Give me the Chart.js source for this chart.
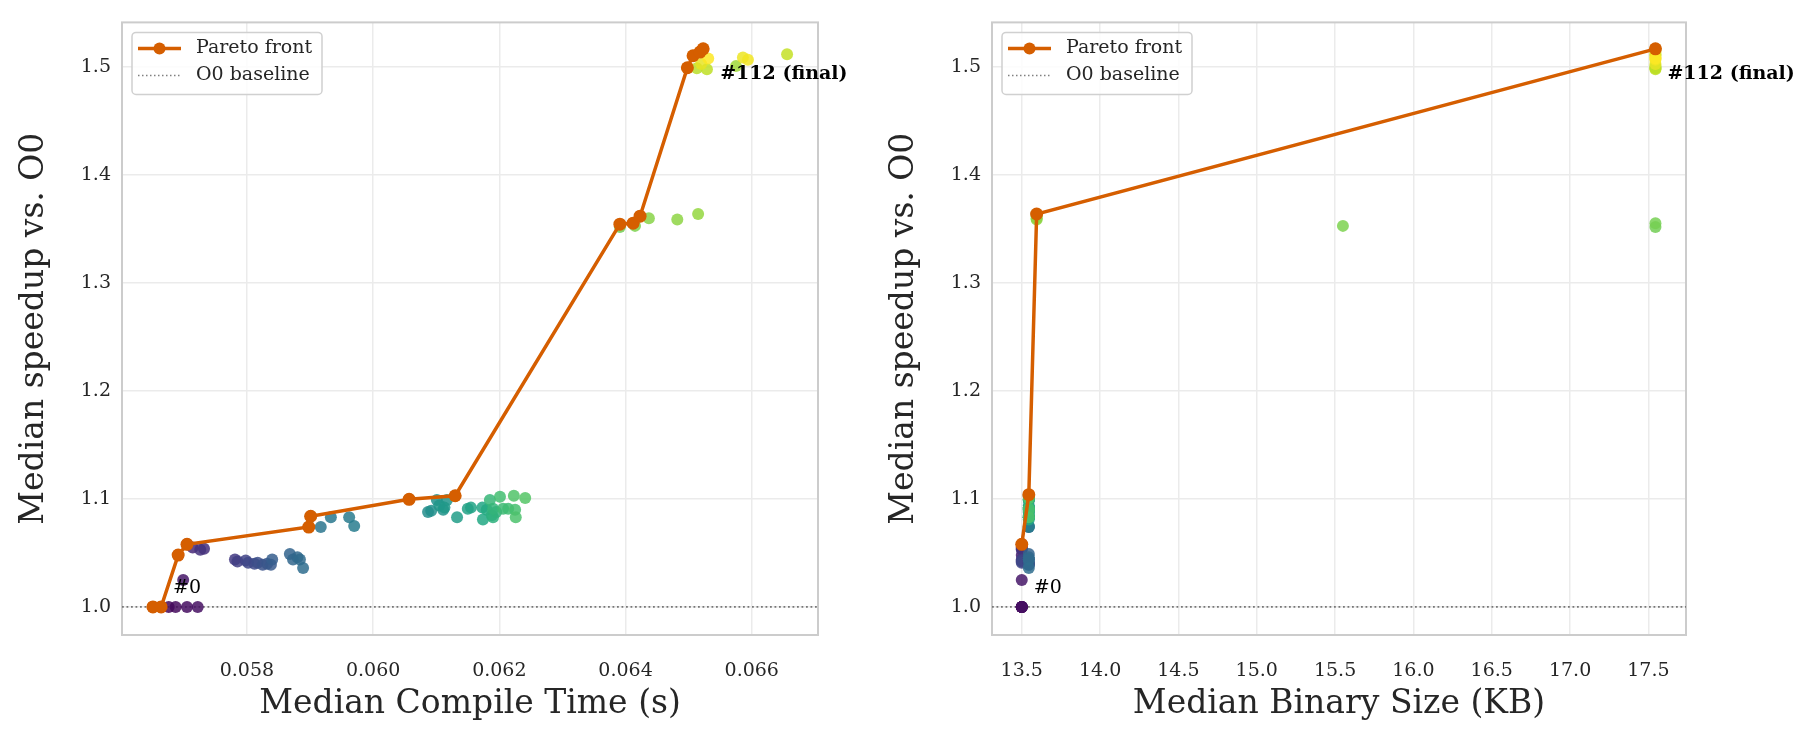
<!DOCTYPE html>
<html>
<head>
<meta charset="utf-8">
<script src="https://cdn.jsdelivr.net/npm/chart.js@4.4.1/dist/chart.umd.min.js"></script>
<style>
  html, body { margin: 0; padding: 0; background: #fff; }
  #wrap { position: relative; width: 1819px; height: 742px; }
  canvas { position: absolute; top: 0; }
</style>
</head>
<body>
<div id="wrap">
  <canvas id="timeChart" width="870" height="742" style="left:0"></canvas>
  <canvas id="sizeChart" width="949" height="742" style="left:870px"></canvas>
</div>
<script>
// one entry per evaluated configuration (iteration number drives the colour)
const iterations = [0, 1, 2, 3, 4, 5, 7, 9, 11, 13, 15, 16, 19, 21, 22, 24, 25, 27, 28, 30,
  31, 33, 36, 37, 38, 39, 40, 42, 43, 44, 45, 46, 47, 52, 54, 55, 56, 57, 58, 59,
  60, 61, 62, 64, 65, 66, 67, 68, 70, 71, 72, 73, 74, 76, 77, 78, 79, 80, 81, 82,
  88, 89, 90, 91, 92, 93, 94, 96, 98, 100, 101, 102, 104, 106, 107, 108, 109, 110, 112];
const compileTime = [0.05664, 0.05651, 0.05676, 0.05687, 0.05705, 0.05722, 0.05699, 0.05691, 0.05705, 0.05714,
  0.05732, 0.05726, 0.05781, 0.05785, 0.05798, 0.05802, 0.05812, 0.05817, 0.05825, 0.05832,
  0.05838, 0.05840, 0.05868, 0.05873, 0.05880, 0.05884, 0.05889, 0.05898, 0.05901, 0.05917,
  0.05933, 0.05962, 0.05970, 0.06057, 0.06087, 0.06092, 0.06101, 0.06111, 0.06117, 0.06105,
  0.06113, 0.06130, 0.06133, 0.06150, 0.06155, 0.06173, 0.06174, 0.06180, 0.06188, 0.06190,
  0.06195, 0.06190, 0.06185, 0.06206, 0.06214, 0.06201, 0.06225, 0.06226, 0.06223, 0.06241,
  0.06391, 0.06412, 0.06415, 0.06423, 0.06437, 0.06482, 0.06515, 0.06575, 0.06498, 0.06513,
  0.06529, 0.06656, 0.06507, 0.06518, 0.06523, 0.06520, 0.06586, 0.06594, 0.06531];
const binarySize = [13.50, 13.50, 13.50, 13.50, 13.50, 13.50, 13.50, 13.50, 13.50, 13.50,
  13.50, 13.50, 13.50, 13.50, 13.50, 13.50, 13.545, 13.545, 13.545, 13.545,
  13.545, 13.545, 13.545, 13.545, 13.545, 13.545, 13.545, 13.545, 13.545, 13.545,
  13.545, 13.545, 13.545, 13.545, 13.545, 13.545, 13.545, 13.545, 13.545, 13.545,
  13.545, 13.545, 13.545, 13.545, 13.545, 13.545, 13.545, 13.545, 13.545, 13.545,
  13.545, 13.545, 13.545, 13.545, 13.545, 13.545, 13.545, 13.545, 13.545, 13.545,
  17.545, 17.545, 15.55, 13.595, 13.595, 13.595, 13.595, 17.545, 17.545, 17.545,
  17.545, 17.545, 17.545, 17.545, 17.545, 17.545, 17.545, 17.545, 17.545];
const speedup = [1.000, 1.000, 1.000, 1.000, 1.000, 1.000, 1.025, 1.048, 1.058, 1.055,
  1.054, 1.053, 1.044, 1.042, 1.043, 1.041, 1.040, 1.041, 1.039, 1.040,
  1.039, 1.044, 1.049, 1.044, 1.046, 1.044, 1.036, 1.074, 1.084, 1.074,
  1.083, 1.083, 1.075, 1.0997, 1.088, 1.089, 1.099, 1.090, 1.099, 1.094,
  1.092, 1.103, 1.083, 1.091, 1.092, 1.092, 1.081, 1.090, 1.085, 1.083,
  1.088, 1.091, 1.099, 1.091, 1.091, 1.102, 1.090, 1.083, 1.103, 1.101,
  1.352, 1.3555, 1.353, 1.362, 1.360, 1.359, 1.364, 1.501, 1.4995, 1.499,
  1.498, 1.512, 1.5106, 1.514, 1.517, 1.503, 1.509, 1.507, 1.508];
const lastIteration = 112;

// Pareto fronts
const paretoTime = [0.05651, 0.05664, 0.05691, 0.05705, 0.05898, 0.05901, 0.06057, 0.06130,
  0.06391, 0.06412, 0.06423, 0.06498, 0.06507, 0.06518, 0.06523];
const paretoTimeSpeedup = [1.000, 1.000, 1.048, 1.058, 1.074, 1.084, 1.0997, 1.103,
  1.3546, 1.3555, 1.362, 1.4995, 1.5106, 1.514, 1.517];
const paretoSize = [13.50, 13.545, 13.595, 17.545];
const paretoSizeSpeedup = [1.058, 1.104, 1.364, 1.517];

const baselineSpeedup = 1.0;

// tick labels
const timeTicks = [0.058, 0.060, 0.062, 0.064, 0.066];
const sizeTicks = [13.5, 14.0, 14.5, 15.0, 15.5, 16.0, 16.5, 17.0, 17.5];
const speedupTicks = [1.0, 1.1, 1.2, 1.3, 1.4, 1.5];

const FONT = '"DejaVu Serif", "Liberation Serif", serif';
const ORANGE = '#d55e00';
const TEXT = '#262626';

const viridisStops = ['#440154', '#482475', '#414487', '#355f8d', '#2a788e', '#21918c',
  '#22a884', '#44bf70', '#7ad151', '#bddf26', '#fde725'];
function viridis(t, alpha) {
  const p = Math.max(0, Math.min(1, t)) * (viridisStops.length - 1);
  const i = Math.min(Math.floor(p), viridisStops.length - 2);
  const f = p - i;
  const a = viridisStops[i], b = viridisStops[i + 1];
  const c = [1, 3, 5].map(k => Math.round(parseInt(a.substr(k, 2), 16) * (1 - f) + parseInt(b.substr(k, 2), 16) * f));
  return 'rgba(' + c.join(',') + ',' + alpha + ')';
}
const pointColors = iterations.map(it => viridis(it / lastIteration, 0.85));

const framePlugin = {
  id: 'frame',
  beforeDatasetsDraw(chart) {
    const a = chart.chartArea, ctx = chart.ctx;
    ctx.save();
    ctx.strokeStyle = '#cccccc';
    ctx.lineWidth = 2;
    ctx.strokeRect(a.left, a.top, a.right - a.left, a.bottom - a.top);
    ctx.restore();
  }
};

const legendBoxPlugin = {
  id: 'legendBox',
  afterDraw(chart) {
    const a = chart.chartArea, ctx = chart.ctx;
    const x = a.left + 10, y = a.top + 10, w = 190, h = 62;
    ctx.save();
    ctx.fillStyle = 'rgba(255,255,255,0.85)';
    ctx.strokeStyle = '#d0d0d0';
    ctx.lineWidth = 1.5;
    ctx.beginPath();
    ctx.roundRect(x, y, w, h, 4);
    ctx.fill();
    ctx.stroke();
    // Pareto front entry
    ctx.strokeStyle = ORANGE;
    ctx.lineWidth = 3.5;
    ctx.beginPath();
    ctx.moveTo(x + 6, y + 16);
    ctx.lineTo(x + 49, y + 16);
    ctx.stroke();
    ctx.fillStyle = ORANGE;
    ctx.beginPath();
    ctx.arc(x + 27.5, y + 16, 6, 0, Math.PI * 2);
    ctx.fill();
    // baseline entry
    ctx.strokeStyle = '#808080';
    ctx.lineWidth = 1.5;
    ctx.setLineDash([1.5, 2.5]);
    ctx.beginPath();
    ctx.moveTo(x + 6, y + 43);
    ctx.lineTo(x + 49, y + 43);
    ctx.stroke();
    ctx.setLineDash([]);
    ctx.fillStyle = TEXT;
    ctx.font = '19px ' + FONT;
    ctx.textBaseline = 'middle';
    ctx.fillText('Pareto front', x + 64, y + 16);
    ctx.fillText('O0 baseline', x + 64, y + 43);
    ctx.restore();
  }
};

const annotatePlugin = {
  id: 'annotate',
  afterDatasetsDraw(chart, args, opts) {
    const ctx = chart.ctx, xs = chart.scales.x, ys = chart.scales.y;
    ctx.save();
    ctx.fillStyle = '#000';
    ctx.textBaseline = 'middle';
    opts.items.forEach(it => {
      const i = iterations.indexOf(it.iter);
      const px = xs.getPixelForValue(opts.xData[i]);
      const py = ys.getPixelForValue(speedup[i]);
      ctx.font = (it.bold ? 'bold ' : '') + '19px ' + FONT;
      ctx.fillText(it.text, px + it.dx, py + it.dy);
    });
    ctx.restore();
  }
};

function makeChart(id, xData, frontX, frontY, xTicks, xMin, xMax, decimals, xTitle, rightPad) {
  const scatter = xData.map((v, i) => ({ x: v, y: speedup[i] }));
  const front = frontX.map((v, i) => ({ x: v, y: frontY[i] }));
  return new Chart(document.getElementById(id), {
    type: 'scatter',
    data: {
      datasets: [
        {
          label: 'Pareto front',
          data: front,
          showLine: true,
          borderColor: ORANGE,
          backgroundColor: ORANGE,
          borderWidth: 3.5,
          pointRadius: 6.5,
          pointBorderWidth: 0
        },
        {
          label: 'configs',
          data: scatter,
          backgroundColor: pointColors,
          borderWidth: 0,
          pointRadius: 6
        },
        {
          label: 'O0 baseline',
          data: [{ x: xMin, y: baselineSpeedup }, { x: xMax, y: baselineSpeedup }],
          showLine: true,
          borderColor: '#777777',
          borderWidth: 1.8,
          borderDash: [1.8, 2.7],
          pointRadius: 0
        }
      ]
    },
    options: {
      responsive: false,
      animation: false,
      layout: { padding: { top: 20, right: rightPad, bottom: 0, left: 0 } },
      plugins: {
        legend: { display: false },
        tooltip: { enabled: false },
        annotate: {
          xData: xData,
          items: [
            { iter: 0, text: '#0', dx: 12, dy: -19, bold: false },
            { iter: lastIteration, text: '#112 (final)', dx: 12, dy: 16, bold: true }
          ]
        }
      },
      scales: {
        x: {
          type: 'linear',
          min: xMin,
          max: xMax,
          afterBuildTicks: s => { s.ticks = xTicks.map(v => ({ value: v })); },
          afterFit: s => { s.height = 107; },
          grid: { color: '#ebebeb', lineWidth: 1.5, drawTicks: false },
          border: { display: false },
          ticks: { padding: 25, color: TEXT, font: { family: FONT, size: 19 }, callback: v => Number(v).toFixed(decimals) },
          title: { display: true, text: xTitle, color: TEXT, font: { family: FONT, size: 33 }, padding: { top: 0, bottom: 18 } }
        },
        y: {
          type: 'linear',
          min: 0.974,
          max: 1.5415,
          afterBuildTicks: s => { s.ticks = speedupTicks.map(v => ({ value: v })); },
          afterFit: s => { s.width = 122; },
          grid: { color: '#ebebeb', lineWidth: 1.5, drawTicks: false },
          border: { display: false },
          ticks: { padding: 11, color: TEXT, font: { family: FONT, size: 19 }, callback: v => Number(v).toFixed(1) },
          title: { display: true, text: 'Median speedup vs. O0', color: TEXT, font: { family: FONT, size: 33 }, padding: { top: 15, bottom: 0 } }
        }
      }
    },
    plugins: [framePlugin, annotatePlugin, legendBoxPlugin]
  });
}

makeChart('timeChart', compileTime, paretoTime, paretoTimeSpeedup, timeTicks,
  0.05602, 0.06705, 3, 'Median Compile Time (s)', 52);
makeChart('sizeChart', binarySize, paretoSize, paretoSizeSpeedup, sizeTicks,
  13.31, 17.74, 1, 'Median Binary Size (KB)', 133);
</script>
</body>
</html>
